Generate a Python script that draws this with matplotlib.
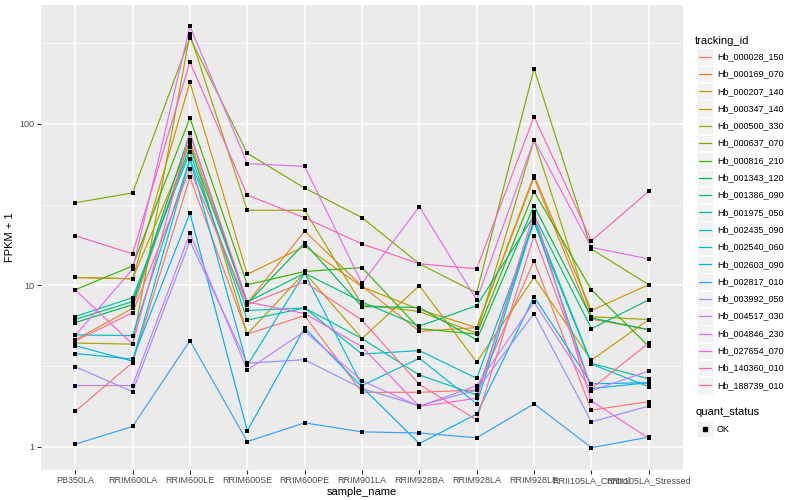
import numpy as np
import matplotlib
matplotlib.use("Agg")
import matplotlib.pyplot as plt
from matplotlib.ticker import FixedLocator, NullFormatter
from matplotlib.patches import Rectangle
from matplotlib.lines import Line2D

plt.rcParams['font.family'] = ['Liberation Sans', 'DejaVu Sans']

samples = ['PB350LA', 'RRIM600LA', 'RRIM600LE', 'RRIM600SE', 'RRIM600PE', 'RRIM901LA',
           'RRIM928BA', 'RRIM928LA', 'RRIM928LE', 'RRII105LA_Control', 'RRII105LA_Stressed']

ids = ['Hb_000028_150', 'Hb_000169_070', 'Hb_000207_140', 'Hb_000347_140', 'Hb_000500_330',
       'Hb_000637_070', 'Hb_000816_210', 'Hb_001343_120', 'Hb_001386_090', 'Hb_001975_050',
       'Hb_002435_090', 'Hb_002540_060', 'Hb_002603_090', 'Hb_002817_010', 'Hb_003992_050',
       'Hb_004517_030', 'Hb_004846_230', 'Hb_027654_070', 'Hb_140360_010', 'Hb_188739_010']

# ggplot hue palette, 20 levels
colors = ['#F8766D', '#EA8331', '#D89000', '#C09B00', '#A3A500', '#7CAE00', '#39B600', '#00BB4E',
          '#00BF7D', '#00C1A3', '#00BFC4', '#00BAE0', '#00B0F6', '#35A2FF', '#9590FF', '#C77CFF',
          '#E76BF3', '#FA62DB', '#FF62BC', '#FF6C91']

# FPKM + 1, one row per tracking_id, columns follow samples
fpkm = [
    [1.66, 3.33, 46.7, 5.0, 6.5, 2.18, 2.18, 2.25, 14.2, 1.69, 1.91],
    [4.6, 7.22, 79.0, 7.8, 21.7, 9.9, 5.2, 5.48, 46.5, 6.2, 5.32],
    [11.2, 11.0, 181.0, 11.7, 17.5, 9.8, 7.1, 5.48, 47.9, 7.0, 10.1],
    [11.2, 11.0, 76.6, 5.0, 12.0, 4.69, 9.97, 3.35, 11.2, 3.45, 6.15],
    [4.4, 4.33, 359.0, 29.2, 29.2, 7.6, 6.9, 5.05, 79.6, 6.4, 6.15],
    [32.5, 37.4, 342.0, 65.8, 40.1, 26.3, 13.6, 9.0, 220.0, 16.8, 10.1],
    [9.4, 13.2, 109.0, 10.1, 12.2, 12.9, 5.4, 5.0, 38.1, 9.4, 4.2],
    [5.89, 7.6, 87.5, 7.7, 18.3, 7.4, 7.3, 4.6, 31.2, 6.3, 5.32],
    [6.17, 7.94, 72.2, 7.9, 11.9, 7.9, 5.6, 7.5, 27.1, 5.4, 8.15],
    [6.42, 8.4, 67.2, 6.1, 7.25, 4.69, 2.79, 2.1, 25.8, 3.3, 2.64],
    [4.94, 4.89, 60.5, 7.0, 7.25, 3.76, 3.95, 2.66, 24.5, 3.26, 2.36],
    [4.24, 3.4, 60.5, 3.2, 11.9, 2.4, 3.54, 1.85, 25.2, 2.3, 2.5],
    [3.79, 3.5, 28.0, 1.26, 5.46, 2.35, 1.05, 1.6, 8.5, 2.46, 2.5],
    [1.04, 1.34, 4.55, 1.08, 1.41, 1.24, 1.22, 1.14, 1.85, 0.99, 1.15],
    [3.14, 2.2, 18.8, 3.3, 3.47, 2.3, 1.8, 2.25, 6.7, 1.43, 1.79],
    [2.40, 2.4, 21.0, 3.0, 5.2, 2.57, 1.78, 2.4, 7.9, 2.23, 2.95],
    [4.9, 12.6, 403.0, 56.8, 54.6, 10.3, 30.8, 8.15, 79.6, 17.2, 14.6],
    [9.4, 4.33, 87.5, 7.9, 6.7, 4.17, 1.78, 2.0, 28.3, 1.93, 1.13],
    [20.3, 15.7, 242.0, 36.3, 26.2, 18.1, 13.6, 12.7, 111.0, 18.9, 38.3],
    [4.53, 6.78, 52.3, 7.6, 10.5, 6.1, 2.44, 1.47, 20.3, 2.3, 4.4],
]

fig = plt.figure(figsize=(8, 5), dpi=100)
ax = fig.add_axes([0.051, 0.06, 0.803, 0.93])
ax.set_facecolor('#EBEBEB')

x = np.arange(len(samples))
for vals, c in zip(fpkm, colors):
    ax.plot(x, vals, color=c, lw=0.85, zorder=2)
for vals in fpkm:
    ax.scatter(x, vals, marker='s', s=5, color='black', zorder=3, linewidths=0)

ax.set_yscale('log')
ax.set_ylim(0.72, 545)
ax.set_xlim(-0.6, len(samples) - 0.4)
ax.yaxis.set_major_locator(FixedLocator([1, 10, 100]))
ax.yaxis.set_minor_locator(FixedLocator([10 ** -0.5, 10 ** 0.5, 10 ** 1.5, 10 ** 2.5]))
ax.yaxis.set_minor_formatter(NullFormatter())
ax.set_yticklabels(['1', '10', '100'])
ax.set_xticks(x)
ax.set_xticklabels(samples)

ax.grid(which='major', color='white', lw=1.1, zorder=0)
ax.grid(which='minor', axis='y', color='white', lw=0.5, zorder=0)
ax.set_axisbelow(True)
for s in ax.spines.values():
    s.set_visible(False)
ax.tick_params(which='major', length=3, color='#333333', labelsize=6.5, labelcolor='#4D4D4D', pad=1.5)
ax.tick_params(which='minor', length=0)

ax.set_xlabel('sample_name', fontsize=8, labelpad=1)
ax.set_ylabel('FPKM + 1', fontsize=8, labelpad=3)

# legend: tracking_id
W, H = 800, 500
def fx(px):
    return px / W
def fy(py):
    return 1 - py / H

fig.text(fx(695), fy(41), 'tracking_id', fontsize=8, va='center', ha='left')
for i, (lab, c) in enumerate(zip(ids, colors)):
    yc = 56.7 + i * 17.3
    fig.add_artist(Rectangle((fx(697), fy(yc + 8.3)), 16 / W, 16.6 / H,
                             facecolor='#F2F2F2', edgecolor='white', lw=0.5, transform=fig.transFigure))
    fig.add_artist(Line2D([fx(699), fx(711)], [fy(yc), fy(yc)], color=c, lw=0.9,
                          transform=fig.transFigure))
    fig.text(fx(717), fy(yc), lab, fontsize=6.5, va='center', ha='left')

# legend: quant_status
fig.text(fx(695), fy(412), 'quant_status', fontsize=8, va='center', ha='left')
fig.add_artist(Rectangle((fx(697), fy(429 + 8.3)), 16 / W, 16.6 / H,
                         facecolor='#F2F2F2', edgecolor='white', lw=0.5, transform=fig.transFigure))
fig.add_artist(Line2D([fx(705)], [fy(429)], marker='s', markersize=2.5, color='black', lw=0,
                      transform=fig.transFigure))
fig.text(fx(717), fy(429), 'OK', fontsize=6.5, va='center', ha='left')

fig.savefig('out.png', dpi=100)
